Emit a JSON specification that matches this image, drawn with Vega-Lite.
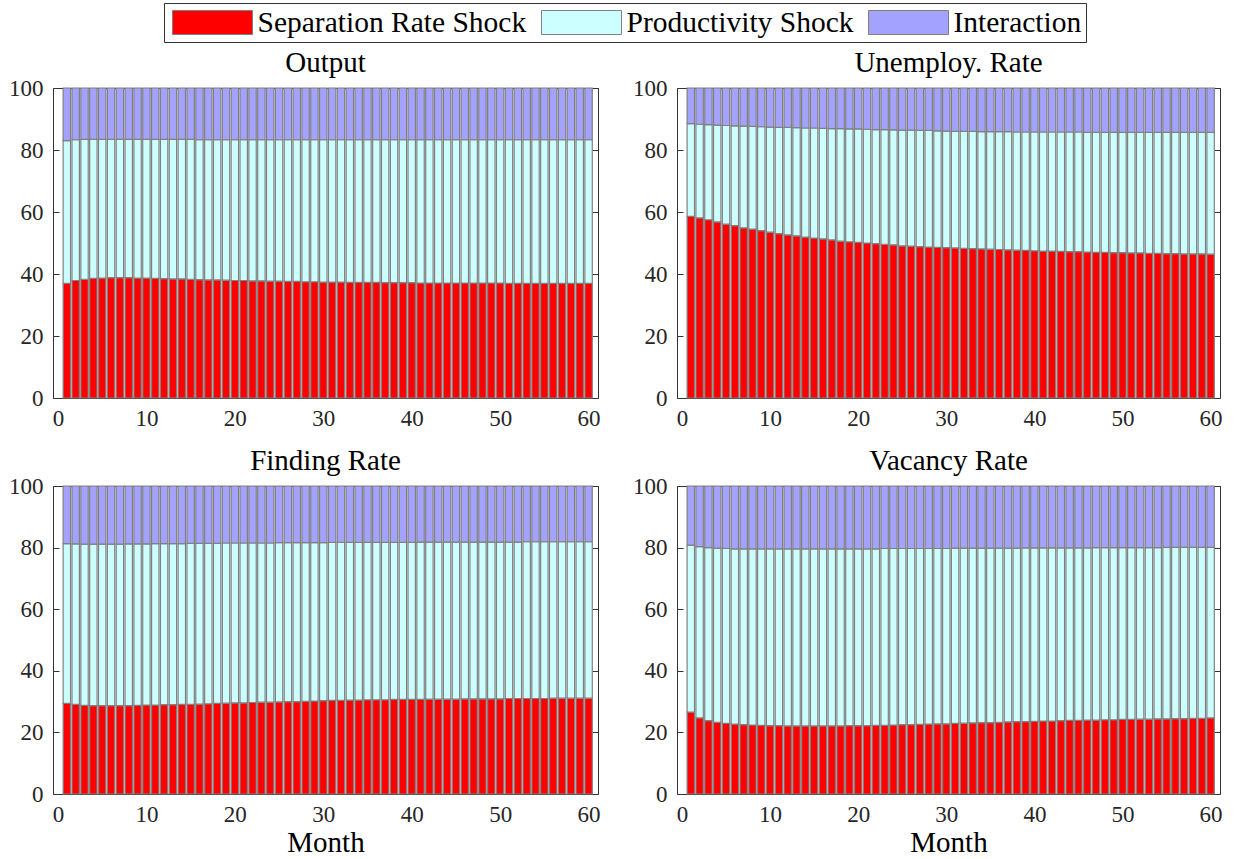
{
"$schema": "https://vega.github.io/schema/vega-lite/v6.json",
"background": "white",
"padding": {"left": 8, "top": 2, "right": 2, "bottom": 0},
"datasets": {
"O": [
{"m":1,"S":37.0,"P":46.0,"I":17.0},{"m":2,"S":37.9,"P":45.4,"I":16.7},{"m":3,"S":38.3,"P":45.1,"I":16.6},{"m":4,"S":38.6,"P":44.8,"I":16.6},{"m":5,"S":38.7,"P":44.7,"I":16.6},
{"m":6,"S":38.8,"P":44.6,"I":16.6},{"m":7,"S":38.8,"P":44.6,"I":16.6},{"m":8,"S":38.8,"P":44.6,"I":16.6},{"m":9,"S":38.7,"P":44.7,"I":16.6},{"m":10,"S":38.7,"P":44.7,"I":16.6},
{"m":11,"S":38.6,"P":44.8,"I":16.6},{"m":12,"S":38.5,"P":44.9,"I":16.6},{"m":13,"S":38.4,"P":45.0,"I":16.6},{"m":14,"S":38.4,"P":45.0,"I":16.6},{"m":15,"S":38.3,"P":45.1,"I":16.6},
{"m":16,"S":38.2,"P":45.1,"I":16.7},{"m":17,"S":38.1,"P":45.2,"I":16.7},{"m":18,"S":38.1,"P":45.2,"I":16.7},{"m":19,"S":38.0,"P":45.3,"I":16.7},{"m":20,"S":37.9,"P":45.4,"I":16.7},
{"m":21,"S":37.9,"P":45.4,"I":16.7},{"m":22,"S":37.8,"P":45.5,"I":16.7},{"m":23,"S":37.8,"P":45.5,"I":16.7},{"m":24,"S":37.7,"P":45.6,"I":16.7},{"m":25,"S":37.7,"P":45.6,"I":16.7},
{"m":26,"S":37.6,"P":45.7,"I":16.7},{"m":27,"S":37.6,"P":45.7,"I":16.7},{"m":28,"S":37.5,"P":45.8,"I":16.7},{"m":29,"S":37.5,"P":45.8,"I":16.7},{"m":30,"S":37.4,"P":45.9,"I":16.7},
{"m":31,"S":37.4,"P":45.9,"I":16.7},{"m":32,"S":37.4,"P":45.9,"I":16.7},{"m":33,"S":37.3,"P":46.0,"I":16.7},{"m":34,"S":37.3,"P":46.0,"I":16.7},{"m":35,"S":37.3,"P":46.0,"I":16.7},
{"m":36,"S":37.3,"P":46.0,"I":16.7},{"m":37,"S":37.2,"P":46.1,"I":16.7},{"m":38,"S":37.2,"P":46.1,"I":16.7},{"m":39,"S":37.2,"P":46.1,"I":16.7},{"m":40,"S":37.2,"P":46.1,"I":16.7},
{"m":41,"S":37.1,"P":46.2,"I":16.7},{"m":42,"S":37.1,"P":46.2,"I":16.7},{"m":43,"S":37.1,"P":46.2,"I":16.7},{"m":44,"S":37.1,"P":46.2,"I":16.7},{"m":45,"S":37.1,"P":46.2,"I":16.7},
{"m":46,"S":37.1,"P":46.2,"I":16.7},{"m":47,"S":37.1,"P":46.2,"I":16.7},{"m":48,"S":37.1,"P":46.2,"I":16.7},{"m":49,"S":37.1,"P":46.2,"I":16.7},{"m":50,"S":37.1,"P":46.2,"I":16.7},
{"m":51,"S":37.0,"P":46.3,"I":16.7},{"m":52,"S":37.0,"P":46.3,"I":16.7},{"m":53,"S":37.0,"P":46.3,"I":16.7},{"m":54,"S":37.0,"P":46.3,"I":16.7},{"m":55,"S":37.0,"P":46.3,"I":16.7},
{"m":56,"S":37.0,"P":46.3,"I":16.7},{"m":57,"S":37.0,"P":46.3,"I":16.7},{"m":58,"S":37.0,"P":46.3,"I":16.7},{"m":59,"S":37.0,"P":46.3,"I":16.7},{"m":60,"S":37.0,"P":46.3,"I":16.7}
],
"U": [
{"m":1,"S":58.6,"P":29.9,"I":11.5},{"m":2,"S":58.1,"P":30.2,"I":11.7},{"m":3,"S":57.5,"P":30.7,"I":11.8},{"m":4,"S":56.8,"P":31.2,"I":12.0},{"m":5,"S":56.1,"P":31.8,"I":12.1},
{"m":6,"S":55.6,"P":32.2,"I":12.2},{"m":7,"S":54.9,"P":32.8,"I":12.3},{"m":8,"S":54.5,"P":33.1,"I":12.4},{"m":9,"S":54.0,"P":33.5,"I":12.5},{"m":10,"S":53.5,"P":33.9,"I":12.6},
{"m":11,"S":53.0,"P":34.3,"I":12.7},{"m":12,"S":52.6,"P":34.7,"I":12.7},{"m":13,"S":52.3,"P":34.9,"I":12.8},{"m":14,"S":51.9,"P":35.2,"I":12.9},{"m":15,"S":51.6,"P":35.5,"I":12.9},
{"m":16,"S":51.3,"P":35.7,"I":13.0},{"m":17,"S":51.0,"P":35.9,"I":13.1},{"m":18,"S":50.6,"P":36.3,"I":13.1},{"m":19,"S":50.4,"P":36.4,"I":13.2},{"m":20,"S":50.2,"P":36.6,"I":13.2},
{"m":21,"S":50.0,"P":36.7,"I":13.3},{"m":22,"S":49.8,"P":36.8,"I":13.4},{"m":23,"S":49.6,"P":37.0,"I":13.4},{"m":24,"S":49.4,"P":37.1,"I":13.5},{"m":25,"S":49.1,"P":37.3,"I":13.6},
{"m":26,"S":49.0,"P":37.4,"I":13.6},{"m":27,"S":48.8,"P":37.5,"I":13.7},{"m":28,"S":48.7,"P":37.6,"I":13.7},{"m":29,"S":48.6,"P":37.6,"I":13.8},{"m":30,"S":48.5,"P":37.6,"I":13.9},
{"m":31,"S":48.4,"P":37.6,"I":14.0},{"m":32,"S":48.3,"P":37.7,"I":14.0},{"m":33,"S":48.2,"P":37.8,"I":14.0},{"m":34,"S":48.1,"P":37.8,"I":14.1},{"m":35,"S":48.0,"P":37.9,"I":14.1},
{"m":36,"S":47.9,"P":38.0,"I":14.1},{"m":37,"S":47.8,"P":38.1,"I":14.1},{"m":38,"S":47.7,"P":38.1,"I":14.2},{"m":39,"S":47.6,"P":38.2,"I":14.2},{"m":40,"S":47.5,"P":38.3,"I":14.2},
{"m":41,"S":47.4,"P":38.4,"I":14.2},{"m":42,"S":47.4,"P":38.4,"I":14.2},{"m":43,"S":47.3,"P":38.5,"I":14.2},{"m":44,"S":47.2,"P":38.6,"I":14.2},{"m":45,"S":47.2,"P":38.6,"I":14.2},
{"m":46,"S":47.1,"P":38.6,"I":14.3},{"m":47,"S":47.0,"P":38.7,"I":14.3},{"m":48,"S":47.0,"P":38.7,"I":14.3},{"m":49,"S":46.9,"P":38.8,"I":14.3},{"m":50,"S":46.9,"P":38.8,"I":14.3},
{"m":51,"S":46.8,"P":38.9,"I":14.3},{"m":52,"S":46.8,"P":38.9,"I":14.3},{"m":53,"S":46.7,"P":39.0,"I":14.3},{"m":54,"S":46.7,"P":39.0,"I":14.3},{"m":55,"S":46.6,"P":39.1,"I":14.3},
{"m":56,"S":46.6,"P":39.1,"I":14.3},{"m":57,"S":46.5,"P":39.2,"I":14.3},{"m":58,"S":46.5,"P":39.2,"I":14.3},{"m":59,"S":46.5,"P":39.2,"I":14.3},{"m":60,"S":46.4,"P":39.3,"I":14.3}
],
"F": [
{"m":1,"S":29.4,"P":51.9,"I":18.7},{"m":2,"S":29.1,"P":52.1,"I":18.8},{"m":3,"S":28.8,"P":52.3,"I":18.9},{"m":4,"S":28.7,"P":52.4,"I":18.9},{"m":5,"S":28.7,"P":52.4,"I":18.9},
{"m":6,"S":28.7,"P":52.4,"I":18.9},{"m":7,"S":28.7,"P":52.4,"I":18.9},{"m":8,"S":28.7,"P":52.5,"I":18.8},{"m":9,"S":28.8,"P":52.4,"I":18.8},{"m":10,"S":28.9,"P":52.3,"I":18.8},
{"m":11,"S":28.9,"P":52.4,"I":18.7},{"m":12,"S":29.0,"P":52.3,"I":18.7},{"m":13,"S":29.0,"P":52.3,"I":18.7},{"m":14,"S":29.1,"P":52.2,"I":18.7},{"m":15,"S":29.1,"P":52.3,"I":18.6},
{"m":16,"S":29.2,"P":52.2,"I":18.6},{"m":17,"S":29.3,"P":52.1,"I":18.6},{"m":18,"S":29.4,"P":52.0,"I":18.6},{"m":19,"S":29.5,"P":52.0,"I":18.5},{"m":20,"S":29.6,"P":51.9,"I":18.5},
{"m":21,"S":29.6,"P":51.9,"I":18.5},{"m":22,"S":29.7,"P":51.8,"I":18.5},{"m":23,"S":29.8,"P":51.7,"I":18.5},{"m":24,"S":29.8,"P":51.7,"I":18.5},{"m":25,"S":29.9,"P":51.7,"I":18.4},
{"m":26,"S":30.0,"P":51.6,"I":18.4},{"m":27,"S":30.0,"P":51.6,"I":18.4},{"m":28,"S":30.1,"P":51.5,"I":18.4},{"m":29,"S":30.2,"P":51.4,"I":18.4},{"m":30,"S":30.3,"P":51.3,"I":18.4},
{"m":31,"S":30.4,"P":51.3,"I":18.3},{"m":32,"S":30.4,"P":51.3,"I":18.3},{"m":33,"S":30.5,"P":51.2,"I":18.3},{"m":34,"S":30.5,"P":51.2,"I":18.3},{"m":35,"S":30.6,"P":51.1,"I":18.3},
{"m":36,"S":30.6,"P":51.1,"I":18.3},{"m":37,"S":30.6,"P":51.1,"I":18.3},{"m":38,"S":30.7,"P":51.0,"I":18.3},{"m":39,"S":30.7,"P":51.0,"I":18.3},{"m":40,"S":30.7,"P":51.0,"I":18.3},
{"m":41,"S":30.7,"P":51.1,"I":18.2},{"m":42,"S":30.8,"P":51.0,"I":18.2},{"m":43,"S":30.8,"P":51.0,"I":18.2},{"m":44,"S":30.8,"P":51.0,"I":18.2},{"m":45,"S":30.8,"P":51.0,"I":18.2},
{"m":46,"S":30.9,"P":50.9,"I":18.2},{"m":47,"S":30.9,"P":50.9,"I":18.2},{"m":48,"S":30.9,"P":50.9,"I":18.2},{"m":49,"S":30.9,"P":50.9,"I":18.2},{"m":50,"S":30.9,"P":50.9,"I":18.2},
{"m":51,"S":31.0,"P":50.8,"I":18.2},{"m":52,"S":31.0,"P":50.8,"I":18.2},{"m":53,"S":31.0,"P":50.9,"I":18.1},{"m":54,"S":31.0,"P":50.9,"I":18.1},{"m":55,"S":31.0,"P":50.9,"I":18.1},
{"m":56,"S":31.1,"P":50.8,"I":18.1},{"m":57,"S":31.1,"P":50.8,"I":18.1},{"m":58,"S":31.1,"P":50.8,"I":18.1},{"m":59,"S":31.1,"P":50.8,"I":18.1},{"m":60,"S":31.1,"P":50.8,"I":18.1}
],
"V": [
{"m":1,"S":26.6,"P":54.2,"I":19.2},{"m":2,"S":24.7,"P":55.6,"I":19.7},{"m":3,"S":23.8,"P":56.2,"I":20.0},{"m":4,"S":23.3,"P":56.5,"I":20.2},{"m":5,"S":22.9,"P":56.8,"I":20.3},
{"m":6,"S":22.7,"P":56.9,"I":20.4},{"m":7,"S":22.5,"P":57.1,"I":20.4},{"m":8,"S":22.4,"P":57.2,"I":20.4},{"m":9,"S":22.3,"P":57.3,"I":20.4},{"m":10,"S":22.2,"P":57.4,"I":20.4},
{"m":11,"S":22.2,"P":57.4,"I":20.4},{"m":12,"S":22.1,"P":57.5,"I":20.4},{"m":13,"S":22.1,"P":57.5,"I":20.4},{"m":14,"S":22.1,"P":57.5,"I":20.4},{"m":15,"S":22.1,"P":57.5,"I":20.4},
{"m":16,"S":22.1,"P":57.5,"I":20.4},{"m":17,"S":22.1,"P":57.5,"I":20.4},{"m":18,"S":22.1,"P":57.5,"I":20.4},{"m":19,"S":22.2,"P":57.4,"I":20.4},{"m":20,"S":22.2,"P":57.4,"I":20.4},
{"m":21,"S":22.2,"P":57.4,"I":20.4},{"m":22,"S":22.3,"P":57.3,"I":20.4},{"m":23,"S":22.3,"P":57.4,"I":20.3},{"m":24,"S":22.4,"P":57.3,"I":20.3},{"m":25,"S":22.5,"P":57.2,"I":20.3},
{"m":26,"S":22.5,"P":57.2,"I":20.3},{"m":27,"S":22.6,"P":57.1,"I":20.3},{"m":28,"S":22.7,"P":57.0,"I":20.3},{"m":29,"S":22.8,"P":56.9,"I":20.3},{"m":30,"S":22.8,"P":56.9,"I":20.3},
{"m":31,"S":22.9,"P":56.9,"I":20.2},{"m":32,"S":23.0,"P":56.8,"I":20.2},{"m":33,"S":23.1,"P":56.7,"I":20.2},{"m":34,"S":23.2,"P":56.6,"I":20.2},{"m":35,"S":23.2,"P":56.6,"I":20.2},
{"m":36,"S":23.3,"P":56.5,"I":20.2},{"m":37,"S":23.4,"P":56.4,"I":20.2},{"m":38,"S":23.5,"P":56.3,"I":20.2},{"m":39,"S":23.5,"P":56.4,"I":20.1},{"m":40,"S":23.6,"P":56.3,"I":20.1},
{"m":41,"S":23.7,"P":56.2,"I":20.1},{"m":42,"S":23.7,"P":56.2,"I":20.1},{"m":43,"S":23.8,"P":56.1,"I":20.1},{"m":44,"S":23.9,"P":56.0,"I":20.1},{"m":45,"S":23.9,"P":56.0,"I":20.1},
{"m":46,"S":24.0,"P":55.9,"I":20.1},{"m":47,"S":24.0,"P":56.0,"I":20.0},{"m":48,"S":24.1,"P":55.9,"I":20.0},{"m":49,"S":24.1,"P":55.9,"I":20.0},{"m":50,"S":24.2,"P":55.8,"I":20.0},
{"m":51,"S":24.2,"P":55.8,"I":20.0},{"m":52,"S":24.3,"P":55.7,"I":20.0},{"m":53,"S":24.3,"P":55.7,"I":20.0},{"m":54,"S":24.4,"P":55.6,"I":20.0},{"m":55,"S":24.4,"P":55.7,"I":19.9},
{"m":56,"S":24.5,"P":55.6,"I":19.9},{"m":57,"S":24.5,"P":55.6,"I":19.9},{"m":58,"S":24.6,"P":55.5,"I":19.9},{"m":59,"S":24.6,"P":55.5,"I":19.9},{"m":60,"S":24.7,"P":55.4,"I":19.9}
]
},
"columns": 2,
"spacing": {"row": 88, "column": 79},
"bounds": "flush",
"concat": [
{"title": "Output", "width": 545, "height": 310, "data": {"name": "O"},
 "transform": [{"fold": ["S","P","I"], "as": ["k","v"]}],
 "layer": [
  {"mark": {"type": "bar", "orient": "vertical", "size": 7.4, "stroke": "#808080", "strokeWidth": 1.2},
   "encoding": {
    "x": {"field": "m", "type": "quantitative", "scale": {"domain": [0, 60.5], "nice": false, "zero": false}, "axis": {"values": [0,10,20,30,40,50,60], "ticks": false, "labelPadding": 9, "title": null}},
    "y": {"field": "v", "type": "quantitative", "stack": "zero", "scale": {"domain": [0, 100], "nice": false}, "axis": {"values": [0,20,40,60,80,100], "tickSize": -6, "labelPadding": 16, "title": null}},
    "color": {"field": "k", "type": "nominal", "scale": {"domain": ["S","P","I"], "range": ["#ff0000","#ccffff","#a3a3ff"]},
      "legend": {"title": null, "orient": "none", "legendX": 111, "legendY": -85, "direction": "horizontal", "labelExpr": "datum.label == 'S' ? 'Separation Rate Shock' : datum.label == 'P' ? 'Productivity Shock' : 'Interaction'"}},
    "order": {"field": "k", "sort": "descending"}
   }},
  {"mark": {"type": "rule", "opacity": 0},
   "encoding": {"y": {"aggregate": "max", "field": "v", "type": "quantitative", "scale": {"domain": [0, 100], "nice": false}, "axis": {"orient": "right", "values": [0,20,40,60,80,100], "labels": false, "tickSize": -6, "title": null}}}}
 ],
 "resolve": {"axis": {"y": "independent"}}
},
{"title": "Unemploy. Rate", "width": 543, "height": 310, "data": {"name": "U"},
 "transform": [{"fold": ["S","P","I"], "as": ["k","v"]}],
 "layer": [
  {"mark": {"type": "bar", "orient": "vertical", "size": 7.4, "stroke": "#808080", "strokeWidth": 1.2},
   "encoding": {
    "x": {"field": "m", "type": "quantitative", "scale": {"domain": [0, 60.5], "nice": false, "zero": false}, "axis": {"values": [0,10,20,30,40,50,60], "ticks": false, "labelPadding": 9, "title": null}},
    "y": {"field": "v", "type": "quantitative", "stack": "zero", "scale": {"domain": [0, 100], "nice": false}, "axis": {"values": [0,20,40,60,80,100], "tickSize": -6, "labelPadding": 16, "title": null}},
    "color": {"field": "k", "type": "nominal", "scale": {"domain": ["S","P","I"], "range": ["#ff0000","#ccffff","#a3a3ff"]},
      "legend": {"title": null, "orient": "none", "legendX": 111, "legendY": -85, "direction": "horizontal", "labelExpr": "datum.label == 'S' ? 'Separation Rate Shock' : datum.label == 'P' ? 'Productivity Shock' : 'Interaction'"}},
    "order": {"field": "k", "sort": "descending"}
   }},
  {"mark": {"type": "rule", "opacity": 0},
   "encoding": {"y": {"aggregate": "max", "field": "v", "type": "quantitative", "scale": {"domain": [0, 100], "nice": false}, "axis": {"orient": "right", "values": [0,20,40,60,80,100], "labels": false, "tickSize": -6, "title": null}}}}
 ],
 "resolve": {"axis": {"y": "independent"}}
},
{"title": "Finding Rate", "width": 545, "height": 308, "data": {"name": "F"},
 "transform": [{"fold": ["S","P","I"], "as": ["k","v"]}],
 "layer": [
  {"mark": {"type": "bar", "orient": "vertical", "size": 7.4, "stroke": "#808080", "strokeWidth": 1.2},
   "encoding": {
    "x": {"field": "m", "type": "quantitative", "scale": {"domain": [0, 60.5], "nice": false, "zero": false}, "axis": {"values": [0,10,20,30,40,50,60], "ticks": false, "labelPadding": 9, "title": "Month", "titlePadding": 2}},
    "y": {"field": "v", "type": "quantitative", "stack": "zero", "scale": {"domain": [0, 100], "nice": false}, "axis": {"values": [0,20,40,60,80,100], "tickSize": -6, "labelPadding": 16, "title": null}},
    "color": {"field": "k", "type": "nominal", "scale": {"domain": ["S","P","I"], "range": ["#ff0000","#ccffff","#a3a3ff"]},
      "legend": {"title": null, "orient": "none", "legendX": 111, "legendY": -85, "direction": "horizontal", "labelExpr": "datum.label == 'S' ? 'Separation Rate Shock' : datum.label == 'P' ? 'Productivity Shock' : 'Interaction'"}},
    "order": {"field": "k", "sort": "descending"}
   }},
  {"mark": {"type": "rule", "opacity": 0},
   "encoding": {"y": {"aggregate": "max", "field": "v", "type": "quantitative", "scale": {"domain": [0, 100], "nice": false}, "axis": {"orient": "right", "values": [0,20,40,60,80,100], "labels": false, "tickSize": -6, "title": null}}}}
 ],
 "resolve": {"axis": {"y": "independent"}}
},
{"title": "Vacancy Rate", "width": 543, "height": 308, "data": {"name": "V"},
 "transform": [{"fold": ["S","P","I"], "as": ["k","v"]}],
 "layer": [
  {"mark": {"type": "bar", "orient": "vertical", "size": 7.4, "stroke": "#808080", "strokeWidth": 1.2},
   "encoding": {
    "x": {"field": "m", "type": "quantitative", "scale": {"domain": [0, 60.5], "nice": false, "zero": false}, "axis": {"values": [0,10,20,30,40,50,60], "ticks": false, "labelPadding": 9, "title": "Month", "titlePadding": 2}},
    "y": {"field": "v", "type": "quantitative", "stack": "zero", "scale": {"domain": [0, 100], "nice": false}, "axis": {"values": [0,20,40,60,80,100], "tickSize": -6, "labelPadding": 16, "title": null}},
    "color": {"field": "k", "type": "nominal", "scale": {"domain": ["S","P","I"], "range": ["#ff0000","#ccffff","#a3a3ff"]},
      "legend": {"title": null, "orient": "none", "legendX": 111, "legendY": -85, "direction": "horizontal", "labelExpr": "datum.label == 'S' ? 'Separation Rate Shock' : datum.label == 'P' ? 'Productivity Shock' : 'Interaction'"}},
    "order": {"field": "k", "sort": "descending"}
   }},
  {"mark": {"type": "rule", "opacity": 0},
   "encoding": {"y": {"aggregate": "max", "field": "v", "type": "quantitative", "scale": {"domain": [0, 100], "nice": false}, "axis": {"orient": "right", "values": [0,20,40,60,80,100], "labels": false, "tickSize": -6, "title": null}}}}
 ],
 "resolve": {"axis": {"y": "independent"}}
}
],
"resolve": {"scale": {"color": "shared"}, "legend": {"color": "shared"}},
"config": {
 "font": "Liberation Serif",
 "view": {"stroke": "#333333", "strokeWidth": 1},
 "title": {"font": "Liberation Serif", "fontSize": 29, "fontWeight": "normal", "color": "#000000", "offset": -1, "baseline": "alphabetic", "anchor": "middle"},
 "axis": {"grid": false, "domain": false, "labelFont": "Liberation Serif", "labelFontSize": 23, "labelColor": "#262626", "tickColor": "#333333", "tickWidth": 1, "titleFont": "Liberation Serif", "titleFontSize": 29, "titleFontWeight": "normal", "titleColor": "#000000"},
 "legend": {"symbolType": "M-1,-0.3L1,-0.3L1,0.3L-1,0.3Z", "symbolSize": 6400, "symbolStrokeColor": "#808080", "symbolStrokeWidth": 1, "symbolOpacity": 1, "clipHeight": 30, "labelFont": "Liberation Serif", "labelFontSize": 29.5, "labelColor": "#000000", "labelLimit": 400, "labelOffset": 4.5, "symbolOffset": 3.5, "columnPadding": 11, "padding": 4.5, "strokeColor": "#333333", "fillColor": "white"}
}
}
